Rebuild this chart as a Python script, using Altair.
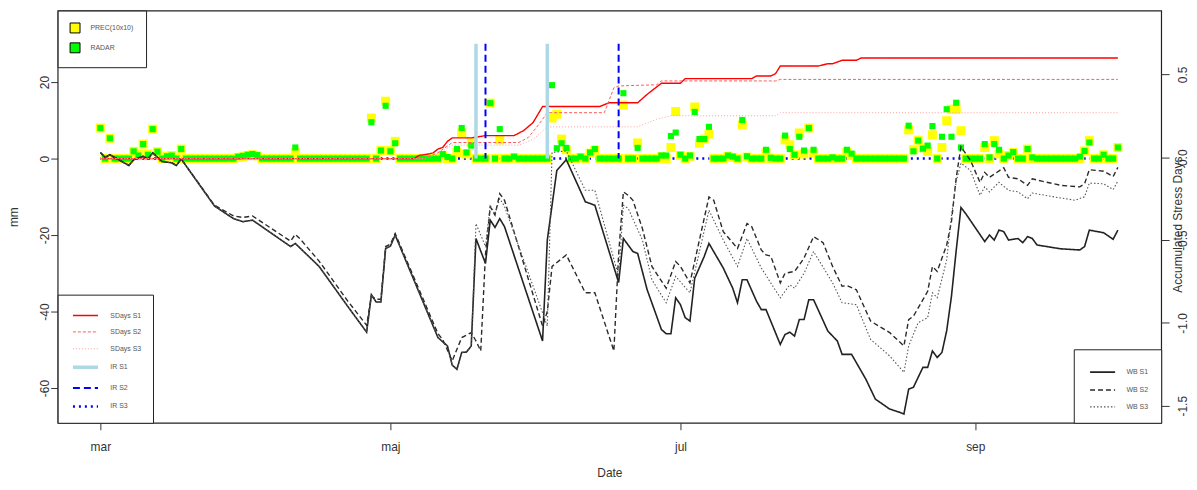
import altair as alt
import pandas as pd

FONT = "Liberation Sans"

# x = day index, 0 = 1 March
month_ticks = [0, 61, 122, 184]
month_labels = ["mar", "maj", "jul", "sep"]
mm_ticks = [20, 0, -20, -40, -60]
sd_ticks = [0.5, 0.0, -0.5, -1.0, -1.5]

days = list(range(215))
prec = [8.0, 0, 5.3, 0, 0, 0, 0, 1.9, 1.2, 3.8,
        1.2, 7.7, 1.8, 0, 0.6, 0.8, 0, 2.5, 0, 0,
        0, 0, 0, 0, 0, 0, 0, 0, 0, 0.3,
        0.5, 0.8, 1.0, 0.7, 0, 0, 0, 0, 0, 0,
        0, 1.6, 0, 0, 0, 0, 0, 0, 0, 0,
        0, 0, 0, 0, 0, 0, 0, 10.6, 0, 2.1,
        15.0, 2.1, 4.5, 0, 0, 0, 0, 0, 0, 0,
        0, 0, 0.8, 0, 0, 1.6, 6.8, 1.2, 4.2, 0,
        0, 0, 14.5, 0, 4.9, 0, 0, 0.3, 0, 0,
        0, 0, 0, 0, 0, 10.6, 11.6, 5.1, 2.3, 0,
        0, 0.3, 0, 1.4, 2.2, 0, 0, 0, 0, 0,
        14.0, 0, 0, 4.1, 0, 0, 0, 0, 0.5, 0,
        2.9, 12.3, 0.8, 0, 0.6, 13.5, 4.0, 5.1, 6.4, 0,
        0, 0, 0.6, 0.3, 0, 8.8, 0.4, 0, 0, 0,
        1.5, 0, 0, 0, 4.9, 3.6, 1.0, 6.7, 1.2, 8.0,
        1.5, 0, 0, 0, 0, 0, 0, 1.6, 0.8, 0,
        0, 0, 0, 0, 0, 0, 0, 0, 0, 0,
        7.5, 2.3, 4.8, 2.8, 1.9, 6.2, 0, 2.9, 9.9, 12.9,
        12.9, 7.3, 0, 0, 0, 0, 2.9, 0, 4.7, 1.2,
        0, 0.8, 1.6, 0, 0, 2.5, 0, 0, 0, 0,
        0, 0, 0, 0, 0, 0, 0, 2.0, 4.7, 0,
        0, 1.0, 0, 0, 2.9]
radar = [8.0, 0, 5.3, 0, 0, 0, 0, 1.9, 0.8, 3.8,
         1.0, 7.7, 1.8, 0, 0.6, 0.8, 0, 2.5, 0, 0,
         0, 0, 0, 0, 0, 0, 0, 0, 0, 0.5,
         0.7, 1.0, 1.2, 0.9, 0, 0, 0, 0, 0, 0,
         0, 2.9, 0, 0, 0, 0, 0, 0, 0, 0,
         0, 0, 0, 0, 0, 0, 0, 9.5, 0, 2.1,
         13.8, 1.9, 4.0, 0, 0, 0, 0, 0, 0, 0,
         0, 0, 1.2, 0.4, 0, 2.5, 8.0, 1.6, 3.4, 0,
         0, 0, 14.5, 0, 7.7, 0, 0, 0.5, 0, 0,
         0, 0, 0, 0, 0, 19.2, 2.7, 4.0, 2.8, 0,
         0, 0.5, 0, 1.6, 2.5, 0, 0, 0, 0, 0,
         17.1, 0, 0, 2.8, 0, 0, 0, 0, 0.8, 0.8,
         5.9, 6.8, 1.0, 0, 0.8, 12.2, 5.1, 5.1, 8.3, 0,
         0, 0, 0.8, 0.5, 0, 10.1, 0.6, 0, 0, 0,
         2.3, 0.2, 0, 0, 6.0, 2.5, 1.0, 5.7, 2.1, 8.0,
         2.3, 0, 0, 0, 0.3, 0, 0, 2.3, 1.3, 0,
         0, 0, 0, 0, 0, 0, 0, 0, 0, 0,
         8.6, 1.9, 4.7, 2.6, 3.4, 8.5, 0, 5.7, 12.9, 5.7,
         14.6, 2.9, 0, 0, 0, 0, 3.8, 0.3, 3.8, 2.3,
         0, 0.8, 1.7, 0, 0, 2.5, 0.3, 0, 0, 0,
         0, 0, 0, 0, 0, 0, 0.5, 2.0, 4.2, 0,
         0, 1.0, 0, 0, 2.9]

# water balance (day, mm)
wb_s1 = [(0, 1.6), (1, 0.3), (2, 1.0), (6, -1.8), (7, -0.3), (9, 0.6), (10, -0.1), (11, 1.5),
         (13, -0.8), (15, -1.1), (16, -1.8), (17, -0.1), (24, -12.4), (28, -15.7), (30, -16.5),
         (32, -16.1), (40, -23.0), (41, -22.2), (46, -28.2), (52, -38.6), (56, -45.4), (57, -35.6),
         (58, -37.5), (59, -37.5), (60, -23.5), (61, -22.9), (62, -20.0), (71, -46.8), (73, -49.0),
         (74, -54.0), (75, -55.1), (76, -50.7), (77, -50.6), (78, -49.0), (79, -20.9), (80, -24.2),
         (81, -27.4), (82, -16.1), (83, -18.0), (84, -15.7), (85, -17.8), (93, -47.7), (94, -21.3),
         (96, -3.1), (98, -0.3), (102, -11.3), (104, -12.2), (109, -32.4), (110, -20.9), (112, -24.3),
         (113, -24.8), (115, -34.3), (118, -44.7), (119, -45.8), (120, -45.8), (121, -36.4),
         (122, -38.2), (123, -41.6), (124, -42.5), (125, -31.3), (127, -25.6), (128, -22.2),
         (131, -28.6), (133, -33.9), (134, -37.7), (135, -31.7), (136, -31.7), (138, -37.3),
         (139, -39.5), (140, -39.5), (143, -48.6), (144, -46.0), (145, -45.4), (146, -46.4),
         (147, -42.1), (148, -42.1), (149, -36.9), (150, -36.9), (153, -45.1), (155, -47.7),
         (156, -51.2), (158, -51.2), (161, -57.7), (163, -62.9), (166, -65.5), (168, -66.3),
         (169, -66.8), (170, -60.3), (171, -59.8), (173, -54.6), (174, -54.6), (175, -50.3),
         (176, -52.0), (177, -50.7), (178, -45.0), (179, -36.0), (180, -24.0), (181, -12.8),
         (182, -14.4), (186, -21.7), (187, -20.0), (188, -21.3), (189, -18.7), (190, -19.1),
         (191, -21.3), (193, -20.9), (194, -22.0), (195, -20.4), (196, -20.9), (197, -22.6),
         (202, -23.6), (206, -23.9), (207, -23.0), (208, -18.7), (211, -19.4), (213, -21.1),
         (214, -18.7)]
wb_s2 = [(0, 1.6), (1, 0.3), (2, 1.0), (6, -1.8), (7, -0.3), (9, 0.6), (10, -0.1), (11, 1.5),
         (13, -0.8), (15, -1.1), (16, -1.8), (17, -0.1), (24, -12.2), (28, -15.0), (30, -15.4),
         (32, -15.0), (40, -21.6), (41, -19.8), (42, -21.0), (46, -26.8), (52, -37.2), (56, -43.6),
         (57, -36.0), (58, -36.8), (59, -36.8), (60, -23.0), (61, -22.4), (62, -19.6), (71, -45.8),
         (72, -47.3), (74, -52.9), (76, -46.8), (78, -45.5), (79, -47.7), (80, -50.3), (81, -25.0),
         (82, -12.6), (83, -14.8), (84, -9.2), (85, -10.9), (93, -43.8), (94, -40.0), (95, -28.2),
         (98, -25.2), (102, -35.1), (104, -35.1), (108, -50.3), (109, -25.0), (110, -8.7),
         (111, -9.6), (112, -10.9), (114, -18.3), (116, -28.2), (119, -33.9), (121, -26.9),
         (122, -28.2), (124, -32.5), (128, -10.0), (129, -10.9), (131, -19.1), (134, -23.5),
         (136, -17.0), (137, -17.8), (139, -23.9), (140, -25.2), (141, -25.5), (143, -32.5),
         (144, -30.0), (146, -29.5), (147, -27.8), (148, -26.0), (150, -20.4), (152, -22.0),
         (154, -28.2), (156, -33.4), (157, -33.2), (159, -34.3), (162, -42.5), (166, -45.5),
         (169, -49.0), (170, -42.1), (171, -41.2), (173, -36.9), (174, -34.7), (175, -28.2),
         (176, -29.5), (178, -22.6), (179, -16.5), (180, -5.0), (181, 3.1), (183, -0.5),
         (185, -6.2), (186, -3.6), (187, -4.9), (190, -2.4), (191, -4.9), (193, -5.3), (195, -7.0),
         (196, -5.3), (198, -5.9), (202, -7.0), (206, -7.4), (207, -6.6), (208, -2.9), (211, -3.3),
         (213, -4.7), (214, -2.3)]
wb_s3 = [(0, 1.6), (1, 0.3), (2, 1.0), (6, -1.8), (7, -0.3), (9, 0.6), (10, -0.1), (11, 1.5),
         (13, -0.8), (15, -1.1), (16, -1.8), (17, -0.1), (24, -12.4), (28, -15.7), (30, -16.5),
         (32, -16.1), (40, -23.0), (41, -22.2), (46, -28.2), (52, -38.6), (56, -45.4), (57, -35.6),
         (58, -37.5), (59, -37.5), (60, -23.5), (61, -22.9), (62, -20.0), (71, -46.8), (73, -49.0),
         (74, -54.0), (75, -55.1), (76, -50.7), (77, -50.6), (78, -49.0), (79, -17.0), (80, -20.0),
         (81, -23.0), (82, -12.2), (83, -14.5), (84, -10.5), (85, -12.5), (93, -40.3), (94, -43.8),
         (95, 1.6), (98, 2.0), (102, -8.3), (104, -8.3), (109, -30.8), (110, -12.2), (111, -13.0),
         (114, -21.3), (116, -31.7), (119, -37.7), (121, -30.8), (124, -35.1), (128, -13.5),
         (131, -21.3), (134, -28.2), (136, -20.9), (139, -28.6), (143, -36.4), (145, -33.0),
         (146, -33.9), (148, -30.0), (150, -24.3), (154, -32.5), (156, -37.7), (159, -38.2),
         (162, -47.3), (166, -51.6), (169, -55.9), (170, -49.0), (172, -42.9), (174, -41.6),
         (175, -35.1), (176, -36.4), (178, -26.5), (179, -15.0), (180, -6.0), (181, -1.2),
         (183, -3.1), (185, -9.6), (186, -7.4), (187, -8.7), (189, -6.2), (191, -8.3), (193, -8.7),
         (195, -10.5), (196, -9.0), (200, -9.9), (205, -10.9), (207, -10.0), (208, -6.4),
         (211, -6.6), (213, -8.1), (214, -5.9)]

# accumulated stress days (drawn in mm units of the left axis)
sd_s1 = [(0, 0), (66, 0), (67, 0.8), (69, 1.2), (70, 1.5), (71, 2.5), (72, 2.9), (73, 4.5),
         (74, 5.4), (78, 5.4), (81, 6.0), (87, 6.0), (89, 7.3), (91, 9.4), (93, 13.6), (105, 13.6),
         (107, 14.6), (113, 14.6), (115, 16.8), (118, 19.7), (122, 19.7), (123, 20.9), (137, 20.9),
         (138, 21.6), (141, 21.6), (142, 22.2), (143, 24.2), (151, 24.2), (153, 24.8), (154, 24.8),
         (156, 25.7), (159, 25.7), (160, 26.3), (214, 26.3)]
sd_s2 = [(0, 0), (68, 0), (71, 1.5), (74, 4.2), (88, 4.2), (90, 5.5), (92, 8.6), (94, 12.0),
         (106, 12.0), (108, 18.5), (109, 19.0), (117, 19.3), (118, 20.3), (142, 20.3), (143, 20.7),
         (214, 20.7)]
sd_s3 = [(0, 0), (68, 0), (71, 1.2), (74, 3.5), (88, 3.5), (91, 5.0), (94, 8.3), (113, 8.3),
         (117, 10.3), (120, 11.2), (142, 11.2), (143, 12.0), (214, 12.0)]

# irrigation events (day, mm)
ir_s1 = [(79, 30), (94, 30)]
ir_s2 = [(81, 30), (109, 30)]
ir_s3 = [(0, 0), (214, 0)]

ir_names = ["SDays S1", "SDays S2", "SDays S3", "IR S1", "IR S2", "IR S3"]
ir_colors = ["#ff0000", "#ff5a5a", "#ffa0a0", "#add8e6", "#0000ff", "#0000ff"]
ir_dash = [[1, 0], [3, 2], [1, 2], [1, 0], [7, 4], [2, 4]]
ir_width = [1.4, 1.0, 1.0, 3.5, 2.0, 2.5]
wb_names = ["WB S1", "WB S2", "WB S3"]
wb_colors = ["#222222", "#2a2a2a", "#555555"]
wb_dash = [[1, 0], [5, 3], [1.5, 2]]
wb_width = [1.6, 1.4, 1.1]
pt_names = ["PREC(10x10)", "RADAR"]
pt_colors = ["#ffff00", "#00ff00"]


def frame(name, pairs):
    return pd.DataFrame({"series": name, "day": [p[0] for p in pairs], "mm": [p[1] for p in pairs]})


prec_df = pd.DataFrame({"src": pt_names[0], "day": days, "mm": prec})
radar_df = pd.DataFrame({"src": pt_names[1], "day": days, "mm": radar})
wb_df = pd.concat([frame("WB S1", wb_s1), frame("WB S2", wb_s2), frame("WB S3", wb_s3)])
sd_df = pd.concat([frame("SDays S1", sd_s1), frame("SDays S2", sd_s2), frame("SDays S3", sd_s3)])
ir_df = pd.concat([frame("IR S1", ir_s1), frame("IR S2", ir_s2)])
ir3_df = frame("IR S3", ir_s3)
right_df = pd.DataFrame({"v": sd_ticks})

X_SCALE = alt.Scale(domain=[-8.98, 223.11], nice=False, zero=False)
Y_SCALE = alt.Scale(domain=[-69.09, 38.70], nice=False, zero=False)
R_SCALE = alt.Scale(domain=[-1.603, 0.8855], nice=False, zero=False)

month_expr = " : ".join(f"datum.value == {t} ? '{l}'" for t, l in zip(month_ticks, month_labels)) + " : ''"

x_axis = alt.Axis(values=month_ticks, labelExpr=month_expr, title="Date", tickSize=7,
                  labelPadding=12, labelAngle=0, labelFlush=False, titleX=555.5, titleY=50,
                  titleAlign="center", titleBaseline="middle")
y_axis = alt.Axis(values=mm_ticks, labelExpr="toString(datum.value)", title="mm", tickSize=7,
                  labelAngle=270, labelAlign="center", labelBaseline="alphabetic", labelPadding=2.5,
                  titleAngle=270, titleAlign="center", titleBaseline="middle", titleX=-44, titleY=207.5)
r_axis = alt.Axis(orient="right", values=sd_ticks,
                  labelExpr="(datum.value < 0 ? '-' : '') + format(abs(datum.value), '.1f')",
                  title="Accumulated Stress Days", tickSize=8, labelAngle=270, labelAlign="center",
                  labelBaseline="top", labelPadding=8, titleAngle=270, titleAlign="center",
                  titleBaseline="middle", titleX=16, titleY=215)

box = dict(title=None, offset=0, strokeColor="#222222", fillColor="white", labelFont=FONT,
           labelFontSize=7, labelColor="#555555")
pt_legend = alt.Legend(orient="top-left", padding=12, symbolType="square", symbolSize=100,
                       symbolStrokeColor="black", symbolStrokeWidth=1, rowPadding=5, labelOffset=10, **box)
ir_legend = alt.Legend(orient="bottom-left", padding=11, symbolType="M-1.4,0L1.4,0", symbolSize=324,
                       symbolOffset=6, rowPadding=4, labelOffset=14, **box)
wb_legend = alt.Legend(orient="bottom-right", padding=13, symbolType="M-1.4,0L1.4,0", symbolSize=324,
                       symbolOffset=6, rowPadding=4, labelOffset=14, **box)

pt_scale = alt.Scale(domain=pt_names, range=pt_colors)


def ir_enc(legend):
    return dict(
        color=alt.Color("series:N", scale=alt.Scale(domain=ir_names, range=ir_colors), legend=legend),
        strokeDash=alt.StrokeDash("series:N", scale=alt.Scale(domain=ir_names, range=ir_dash), legend=legend),
        strokeWidth=alt.StrokeWidth("series:N", scale=alt.Scale(type="ordinal", domain=ir_names, range=ir_width),
                                    legend=legend),
    )


x_enc = alt.X("day:Q", scale=X_SCALE, axis=x_axis)

ir3_layer = alt.Chart(ir3_df).mark_line().encode(
    x=x_enc,
    y=alt.Y("mm:Q", scale=Y_SCALE, axis=y_axis),
    **ir_enc(None),
)

prec_layer = alt.Chart(prec_df).mark_square(size=81, filled=True, opacity=1).encode(
    x=x_enc,
    y=alt.Y("mm:Q", scale=Y_SCALE, axis=None),
    color=alt.Color("src:N", scale=pt_scale, legend=pt_legend),
)
radar_layer = alt.Chart(radar_df).mark_square(size=38, filled=True, opacity=1).encode(
    x=x_enc,
    y=alt.Y("mm:Q", scale=Y_SCALE, axis=None),
    color=alt.Color("src:N", scale=pt_scale, legend=None),
)

wb_layer = alt.Chart(wb_df).mark_line().encode(
    x=x_enc,
    y=alt.Y("mm:Q", scale=Y_SCALE, axis=None),
    color=alt.Color("series:N", scale=alt.Scale(domain=wb_names, range=wb_colors), legend=wb_legend),
    strokeDash=alt.StrokeDash("series:N", scale=alt.Scale(domain=wb_names, range=wb_dash), legend=wb_legend),
    strokeWidth=alt.StrokeWidth("series:N", scale=alt.Scale(type="ordinal", domain=wb_names, range=wb_width),
                                legend=wb_legend),
)

sd_layer = alt.Chart(sd_df).mark_line().encode(
    x=x_enc,
    y=alt.Y("mm:Q", scale=Y_SCALE, axis=None),
    **ir_enc(ir_legend),
)

ir_layer = alt.Chart(ir_df).mark_rule().encode(
    x=x_enc,
    y=alt.Y("mm:Q", scale=Y_SCALE, axis=None),
    y2=alt.datum(0),
    **ir_enc(None),
)

right_layer = alt.Chart(right_df).mark_point(opacity=0).encode(
    x=alt.value(0),
    y=alt.Y("v:Q", scale=R_SCALE, axis=r_axis),
)

chart = alt.layer(
    ir3_layer, prec_layer, radar_layer, wb_layer, sd_layer, ir_layer, right_layer
).resolve_scale(
    y="independent", color="independent", strokeDash="independent", strokeWidth="independent"
).properties(
    width=1111, height=415,
    padding={"left": 50, "top": 1, "right": 28, "bottom": 56},
    autosize=alt.AutoSizeParams(type="none"),
).configure_view(
    stroke="#222222", strokeWidth=1.2
).configure_axis(
    labelFont=FONT, titleFont=FONT, labelFontSize=12, titleFontSize=12, titleFontWeight="normal",
    labelColor="#333333", titleColor="#333333", tickColor="#333333", tickWidth=1,
    grid=False, domain=False,
)

chart.save("out.html", embed_options={"renderer": "svg", "actions": False})
